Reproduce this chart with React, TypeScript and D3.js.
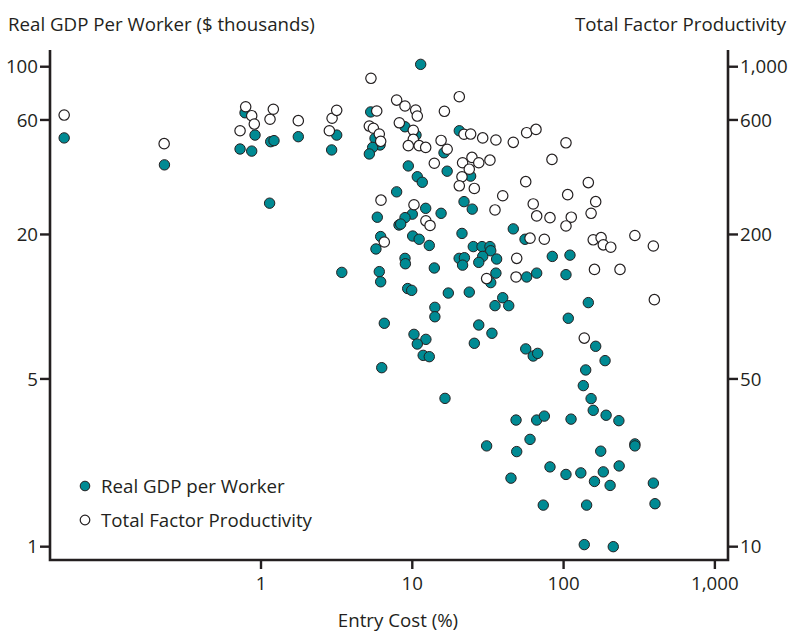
import React from "react";
import * as d3 from "d3";

// Entry cost (%) and real GDP per worker ($ thousands)
const gdpEntryCost = [
  0.05, 0.23, 0.727, 0.784, 0.868, 0.913, 1.159, 1.219, 1.764, 2.93, 3.165, 5.31, 5.67, 6.12, 5.47, 5.2,
  1.14, 7.88, 5.87, 8.17, 6.18, 5.75, 11.36, 8.95, 10.58, 20.45, 16.2, 9.41, 10.79, 11.64, 17.0, 24.3,
  21.97, 24.9, 12.26, 15.5, 10.0, 8.95, 8.38, 21.3, 46.5, 55.6, 10.06, 11.1, 12.95, 25.3, 28.9, 32.6,
  33.0, 29.2, 20.4, 22.1, 21.5, 27.5, 36.1, 84.2, 8.95, 9.0, 13.98, 6.05, 6.18, 9.32, 9.91, 17.3,
  23.8, 35.7, 33.0, 57.0, 66.4, 39.6, 35.2, 43.4, 14.1, 14.1, 6.53, 10.26, 12.3, 10.79, 27.5, 33.6,
  25.7, 11.8, 12.95, 56.2, 63.0, 67.4, 6.28, 16.45, 48.5, 66.4, 74.6, 103.7, 110.2, 145.7, 107.4, 163,
  188, 140, 135, 152, 157, 191, 232, 112, 31.0, 49.0, 60.0, 176, 296, 296, 81.3, 103.7,
  130, 183, 233, 160, 203, 44.9, 392, 73.4, 142, 402, 137, 213, 3.42,
];
const gdpValues = [
  50.5, 39.0, 45.4, 64.3, 44.5, 51.9, 48.7, 49.2, 51.1, 45.0, 51.9, 64.8, 50.3, 47.2, 46.1, 43.3,
  27.0, 30.1, 23.6, 21.9, 19.6, 17.4, 102.3, 56.2, 51.9, 54.1, 43.8, 38.6, 34.8, 33.0, 36.7, 35.0,
  27.4, 25.5, 25.7, 24.5, 24.3, 23.5, 22.1, 20.2, 21.1, 19.1, 19.7, 19.1, 18.0, 17.8, 17.8, 17.8,
  17.1, 16.2, 15.9, 16.0, 14.9, 15.3, 15.8, 16.2, 15.9, 15.1, 14.5, 14.0, 12.7, 11.9, 11.7, 11.4,
  11.5, 13.8, 12.6, 13.3, 13.8, 10.9, 10.1, 10.1, 9.94, 9.08, 8.53, 7.67, 7.31, 6.99, 8.39, 7.75,
  7.04, 6.27, 6.19, 6.67, 6.23, 6.39, 5.57, 4.15, 3.37, 3.37, 3.5, 13.6, 16.4, 10.4, 8.95, 6.84,
  5.96, 5.45, 4.69, 4.14, 3.7, 3.53, 3.35, 3.4, 2.63, 2.49, 2.8, 2.5, 2.68, 2.63, 2.15, 2.0,
  2.03, 2.05, 2.17, 1.87, 1.8, 1.93, 1.84, 1.49, 1.49, 1.51, 1.02, 1.0, 13.9,
];

// Entry cost (%) and total factor productivity
const tfpEntryCost = [
  0.05, 0.229, 0.727, 0.792, 0.868, 0.903, 1.147, 1.206, 1.764, 2.83, 2.95, 3.165, 5.33, 5.2, 5.53, 5.82,
  6.05, 6.18, 7.88, 8.21, 6.21, 6.53, 8.95, 10.53, 10.79, 20.45, 16.3, 10.15, 10.15, 9.41, 11.1, 12.26,
  15.5, 17.0, 21.97, 24.3, 29.2, 35.7, 46.5, 57.0, 65.7, 103.7, 13.98, 21.5, 24.8, 27.5, 32.6, 23.8,
  21.3, 20.45, 25.7, 39.6, 56.2, 83.8, 106.4, 63.0, 35.2, 66.4, 81.3, 112.4, 103.7, 10.26, 12.3, 13.1,
  74.6, 60.0, 145.7, 163, 152, 157, 177, 183, 205, 296, 392, 160, 236, 49.0, 31.0, 48.5,
  398, 137,
];
const tfpValues = [
  629, 478, 541, 681, 625, 577, 604, 665, 596, 541, 610, 658, 895, 566, 554, 654,
  524, 489, 726, 584, 278, 186, 686, 660, 623, 750, 652, 543, 498, 469, 469, 461,
  493, 453, 523, 524, 505, 495, 484, 531, 548, 482, 396, 398, 419, 398, 408, 374,
  348, 319, 311, 290, 332, 411, 293, 268, 253, 239, 235, 236, 217, 266, 228, 218,
  191, 193, 329, 274, 245, 190, 194, 181, 177, 198, 179, 143, 143, 159, 131, 133,
  107, 74,
];

const xTicks = [1, 10, 100, 1000];
const xTickLabels = ["1", "10", "100", "1,000"];
const leftTicks = [1, 5, 20, 60, 100];
const leftTickLabels = ["1", "5", "20", "60", "100"];
const rightTicks = [10, 50, 200, 600, 1000];
const rightTickLabels = ["10", "50", "200", "600", "1,000"];

const W = 791;
const H = 631;
const TEAL = "#008a93";
const INK = "#231f20";
const FONT = "'Open Sans', 'Noto Sans', sans-serif";
const FS = 18.7;

export default function App() {
  const left = 50, right = 728, top = 50, bottom = 560;
  const x = d3.scaleLog().domain([0.0403, 1221]).range([left, right]);
  const yL = d3.scaleLog().domain([0.88, 117.4]).range([bottom, top]);
  const yR = d3.scaleLog().domain([8.8, 1174]).range([bottom, top]);
  const r = 5.2;

  const gdp = gdpEntryCost.map((c, i) => ({ c, v: gdpValues[i] }));
  const tfp = tfpEntryCost.map((c, i) => ({ c, v: tfpValues[i] }));

  return (
    <svg
      width={W}
      height={H}
      style={{ position: "absolute", left: 0, top: 0, background: "#fff" }}
      fontFamily={FONT}
    >
      <rect x={0} y={0} width={W} height={H} fill="#fff" />
      <text x={8} y={31} fontSize={FS} fill={INK}>
        Real GDP Per Worker ($ thousands)
      </text>
      <text x={786} y={31} fontSize={FS} fill={INK} textAnchor="end">
        Total Factor Productivity
      </text>

      {/* points */}
      {gdp.map((d, i) => (
        <circle key={"g" + i} cx={x(d.c)} cy={yL(d.v)} r={r} fill={TEAL} stroke={INK} strokeWidth={1} />
      ))}
      {tfp.map((d, i) => (
        <circle key={"t" + i} cx={x(d.c)} cy={yR(d.v)} r={r} fill="#fff" stroke={INK} strokeWidth={1.2} />
      ))}

      {/* axes */}
      <path d={`M${left},${top}V${bottom}H${right}V${top}`} fill="none" stroke={INK} strokeWidth={2.6} />
      {leftTicks.map((t, i) => (
        <g key={"l" + i}>
          <line x1={left - 10} x2={left} y1={yL(t)} y2={yL(t)} stroke={INK} strokeWidth={2.4} />
          <text x={left - 12} y={yL(t)} dy="0.36em" textAnchor="end" fontSize={FS} fill={INK}>
            {leftTickLabels[i]}
          </text>
        </g>
      ))}
      {rightTicks.map((t, i) => (
        <g key={"r" + i}>
          <line x1={right} x2={right + 10} y1={yR(t)} y2={yR(t)} stroke={INK} strokeWidth={2.4} />
          <text x={right + 12} y={yR(t)} dy="0.36em" textAnchor="start" fontSize={FS} fill={INK}>
            {rightTickLabels[i]}
          </text>
        </g>
      ))}
      {xTicks.map((t, i) => (
        <g key={"x" + i}>
          <line x1={x(t)} x2={x(t)} y1={bottom} y2={bottom + 9} stroke={INK} strokeWidth={2.4} />
          <text x={x(t)} y={590} textAnchor="middle" fontSize={FS} fill={INK}>
            {xTickLabels[i]}
          </text>
        </g>
      ))}
      <text x={398} y={627} textAnchor="middle" fontSize={FS} fill={INK}>
        Entry Cost (%)
      </text>

      {/* legend */}
      <circle cx={85} cy={486} r={4.8} fill={TEAL} stroke={INK} strokeWidth={1} />
      <text x={101} y={493} fontSize={FS} fill={INK}>Real GDP per Worker</text>
      <circle cx={85} cy={520} r={4.8} fill="#fff" stroke={INK} strokeWidth={1.2} />
      <text x={101} y={527} fontSize={FS} fill={INK}>Total Factor Productivity</text>
    </svg>
  );
}
